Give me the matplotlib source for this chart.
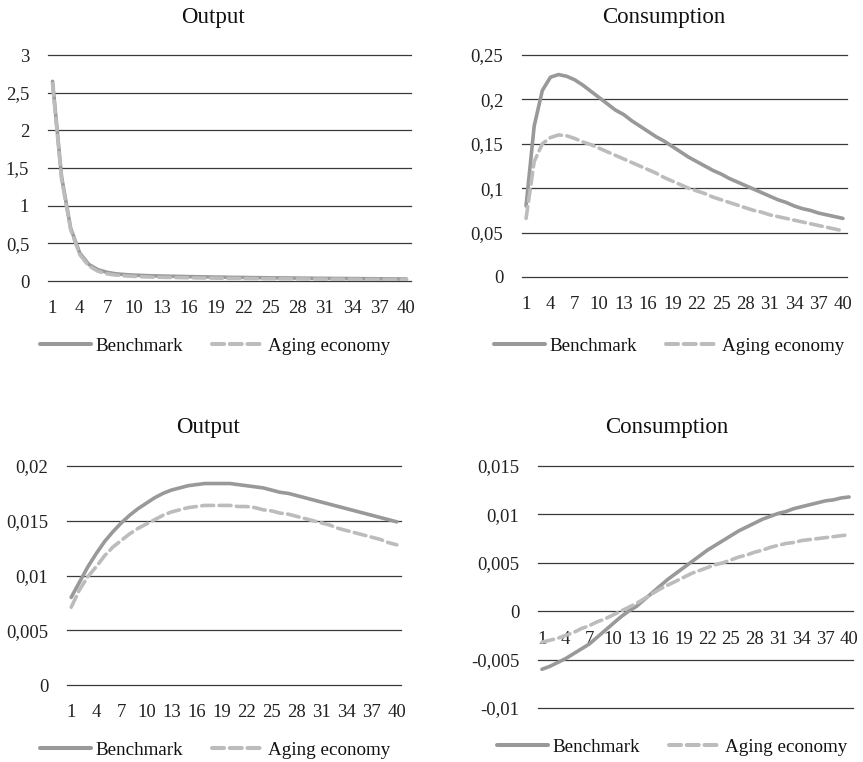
import matplotlib
matplotlib.use("Agg")
import matplotlib.pyplot as plt
from matplotlib.lines import Line2D

plt.rcParams['font.family'] = ['Liberation Serif', 'DejaVu Serif']

periods = list(range(1, 41))
xtick_vals = list(range(1, 41, 3))
xtick_labels = [str(v) for v in xtick_vals]

series_names = ["Benchmark", "Aging economy"]

# Panel 1: Output (top-left)
out1_bench = [2.65, 1.38, 0.70, 0.37, 0.22, 0.15, 0.115, 0.095, 0.085, 0.078,
              0.073, 0.069, 0.066, 0.063, 0.061, 0.058, 0.056, 0.054, 0.052, 0.050,
              0.048, 0.047, 0.045, 0.044, 0.042, 0.041, 0.040, 0.038, 0.037, 0.036,
              0.035, 0.034, 0.033, 0.032, 0.031, 0.030, 0.029, 0.028, 0.027, 0.026]
out1_aging = [2.62, 1.35, 0.68, 0.35, 0.20, 0.13, 0.095, 0.078, 0.068, 0.061,
              0.056, 0.052, 0.049, 0.047, 0.045, 0.043, 0.041, 0.039, 0.038, 0.036,
              0.035, 0.034, 0.033, 0.032, 0.031, 0.030, 0.029, 0.028, 0.027, 0.026,
              0.025, 0.024, 0.024, 0.023, 0.022, 0.021, 0.021, 0.020, 0.020, 0.019]
out1_yticks = [0, 0.5, 1, 1.5, 2, 2.5, 3]
out1_ylabels = ["0", "0,5", "1", "1,5", "2", "2,5", "3"]

# Panel 2: Consumption (top-right)
con1_bench = [0.080, 0.170, 0.210, 0.225, 0.228, 0.226, 0.222, 0.216, 0.209, 0.202,
              0.195, 0.188, 0.183, 0.176, 0.170, 0.164, 0.158, 0.153, 0.147, 0.141,
              0.135, 0.130, 0.125, 0.120, 0.116, 0.111, 0.107, 0.103, 0.099, 0.095,
              0.091, 0.087, 0.084, 0.080, 0.077, 0.075, 0.072, 0.070, 0.068, 0.066]
con1_aging = [0.066, 0.130, 0.150, 0.157, 0.160, 0.159, 0.156, 0.152, 0.149, 0.145,
              0.141, 0.137, 0.133, 0.129, 0.125, 0.121, 0.117, 0.112, 0.108, 0.104,
              0.100, 0.097, 0.094, 0.090, 0.087, 0.084, 0.081, 0.078, 0.075, 0.073,
              0.070, 0.068, 0.066, 0.064, 0.062, 0.060, 0.058, 0.056, 0.054, 0.052]
con1_yticks = [0, 0.05, 0.1, 0.15, 0.2, 0.25]
con1_ylabels = ["0", "0,05", "0,1", "0,15", "0,2", "0,25"]

# Panel 3: Output (bottom-left)
out2_bench = [0.0080, 0.0094, 0.0108, 0.0120, 0.0131, 0.0140, 0.0148, 0.0155, 0.0161, 0.0166,
              0.0171, 0.0175, 0.0178, 0.0180, 0.0182, 0.0183, 0.0184, 0.0184, 0.0184, 0.0184,
              0.0183, 0.0182, 0.0181, 0.0180, 0.0178, 0.0176, 0.0175, 0.0173, 0.0171, 0.0169,
              0.0167, 0.0165, 0.0163, 0.0161, 0.0159, 0.0157, 0.0155, 0.0153, 0.0151, 0.0149]
out2_aging = [0.0071, 0.0087, 0.0099, 0.0108, 0.0118, 0.0126, 0.0132, 0.0138, 0.0143, 0.0147,
              0.0151, 0.0155, 0.0158, 0.0160, 0.0162, 0.0163, 0.0164, 0.0164, 0.0164, 0.0164,
              0.0163, 0.0163, 0.0162, 0.0160, 0.0159, 0.0157, 0.0156, 0.0154, 0.0152, 0.0150,
              0.0148, 0.0146, 0.0143, 0.0141, 0.0139, 0.0137, 0.0135, 0.0133, 0.0130, 0.0128]
out2_yticks = [0, 0.005, 0.01, 0.015, 0.02]
out2_ylabels = ["0", "0,005", "0,01", "0,015", "0,02"]

# Panel 4: Consumption (bottom-right)
con2_bench = [-0.0060, -0.0057, -0.0053, -0.0049, -0.0044, -0.0039, -0.0034, -0.0027, -0.0020, -0.0013,
              -0.0006, 0.0000, 0.0005, 0.0012, 0.0019, 0.0026, 0.0033, 0.0039, 0.0045, 0.0051,
              0.0057, 0.0063, 0.0068, 0.0073, 0.0078, 0.0083, 0.0087, 0.0091, 0.0095, 0.0098,
              0.0101, 0.0103, 0.0106, 0.0108, 0.0110, 0.0112, 0.0114, 0.0115, 0.0117, 0.0118]
con2_aging = [-0.0032, -0.0030, -0.0028, -0.0025, -0.0022, -0.0018, -0.0015, -0.0011, -0.0008, -0.0004,
              0.0000, 0.0004, 0.0008, 0.0013, 0.0018, 0.0023, 0.0027, 0.0031, 0.0035, 0.0039,
              0.0042, 0.0045, 0.0048, 0.0050, 0.0053, 0.0056, 0.0058, 0.0061, 0.0063, 0.0066,
              0.0068, 0.0070, 0.0071, 0.0073, 0.0074, 0.0075, 0.0076, 0.0077, 0.0078, 0.0079]
con2_yticks = [-0.01, -0.005, 0, 0.005, 0.01, 0.015]
con2_ylabels = ["-0,01", "-0,005", "0", "0,005", "0,01", "0,015"]

W, H = 863, 762
fig = plt.figure(figsize=(W / 100, H / 100), dpi=100)

BENCH_COLOR = "#999999"
AGING_COLOR = "#bcbcbc"
GRID_COLOR = "#3a3a3a"
LW = 2.6
DASH = (3.3, 1.5)
TICK_FS = 13.5
TITLE_FS = 16.5
LEG_FS = 13.7


def px_axes(left, right, top, bottom):
    return fig.add_axes([left / W, 1 - bottom / H, (right - left) / W, (bottom - top) / H])


panels = [
    (48, 411, 55, 281, "Output", 213, 18, out1_bench, out1_aging, out1_yticks, out1_ylabels, 215, 346, False),
    (522, 847, 55, 277, "Consumption", 664, 18, con1_bench, con1_aging, con1_yticks, con1_ylabels, 669, 346, False),
    (67, 401, 466, 685, "Output", 208, 428, out2_bench, out2_aging, out2_yticks, out2_ylabels, 215, 750, False),
    (538, 853, 466, 708, "Consumption", 667, 428, con2_bench, con2_aging, con2_yticks, con2_ylabels, 672, 747, True),
]

for (l, r, t, b, title, tx, ty, bench, aging, yt, yl, lx, ly, at_zero) in panels:
    ax = px_axes(l, r, t, b)
    for s in ax.spines.values():
        s.set_visible(False)
    if at_zero:
        ax.spines['bottom'].set_position(('data', 0))
    ax.set_xlim(0.5, 40.5)
    ax.set_ylim(yt[0], yt[-1])
    ax.set_yticks(yt)
    ax.set_yticklabels(yl, fontsize=TICK_FS)
    ax.set_xticks(xtick_vals)
    ax.set_xticklabels(xtick_labels, fontsize=TICK_FS)
    ax.tick_params(axis='both', length=0, colors='#222222', labelsize=TICK_FS)
    ax.tick_params(axis='y', pad=13.5)
    ax.tick_params(axis='x', pad=14)
    for v in yt:
        ax.axhline(v, color=GRID_COLOR, lw=0.9, zorder=1, clip_on=False)
    ax.plot(periods, bench, color=BENCH_COLOR, lw=LW, solid_capstyle='round',
            solid_joinstyle='round', zorder=3)
    ax.plot(periods, aging, color=AGING_COLOR, lw=LW, dashes=DASH, dash_capstyle='round',
            dash_joinstyle='round', zorder=3)
    ax.patch.set_alpha(0)
    fig.text(tx / W, 1 - ty / H, title, ha='center', va='center', fontsize=TITLE_FS, color='#111111')
    handles = [Line2D([], [], color=BENCH_COLOR, lw=LW + 0.3, solid_capstyle='round'),
               Line2D([], [], color=AGING_COLOR, lw=LW + 0.3, dashes=(3.0, 1.4), dash_capstyle='round')]
    fig.legend(handles, series_names, loc='center', bbox_to_anchor=(lx / W, 1 - ly / H),
               ncol=2, frameon=False, fontsize=LEG_FS, handlelength=2.7,
               handletextpad=0.25, columnspacing=1.5, labelcolor='#111111')

fig.savefig("out.png", dpi=100)
